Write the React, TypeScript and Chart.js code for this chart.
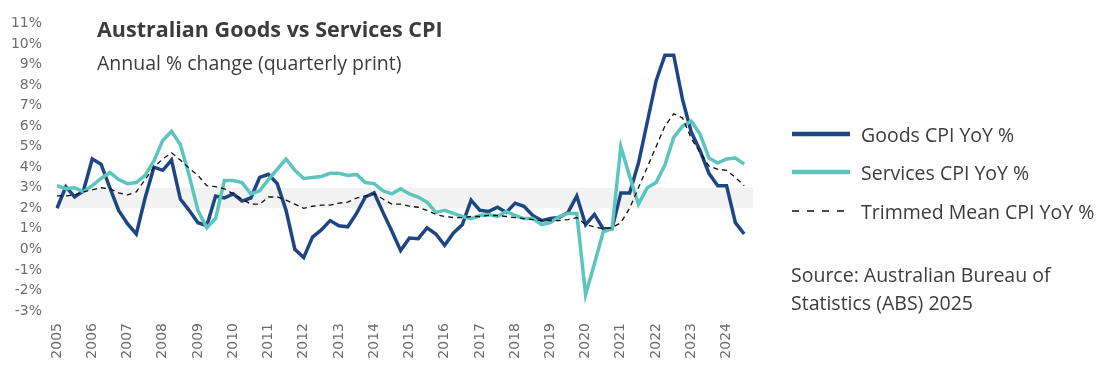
import React, { useEffect, useRef } from "react";
import { Chart, registerables } from "chart.js";

Chart.register(...registerables);

const years = [
  2005, 2006, 2007, 2008, 2009, 2010, 2011, 2012, 2013, 2014,
  2015, 2016, 2017, 2018, 2019, 2020, 2021, 2022, 2023, 2024,
];
const quarterNames = ["Q1", "Q2", "Q3", "Q4"];

const goodsCPI = [
  2.0, 3.05, 2.55, 2.85, 4.4, 4.15, 3.0, 1.9, 1.25, 0.75,
  2.5, 4.0, 3.85, 4.35, 2.45, 1.9, 1.3, 1.15, 2.6, 2.5,
  2.7, 2.35, 2.5, 3.5, 3.65, 3.2, 1.9, 0.0, -0.4, 0.6,
  0.95, 1.4, 1.15, 1.1, 1.75, 2.55, 2.75, 1.8, 0.9, -0.05,
  0.55, 0.52, 1.05, 0.75, 0.2, 0.8, 1.2, 2.4, 1.9, 1.85,
  2.05, 1.8, 2.25, 2.1, 1.65, 1.4, 1.5, 1.55, 1.8, 2.6,
  1.2, 1.7, 1.0, 1.0, 2.75, 2.75, 4.2, 6.2, 8.2, 9.45,
  9.45, 7.3, 5.7, 4.8, 3.7, 3.1, 3.1, 1.3, 0.75, null,
];

const servicesCPI = [
  3.1, 2.95, 3.0, 2.8, 3.1, 3.45, 3.75, 3.4, 3.2, 3.25,
  3.6, 4.3, 5.3, 5.75, 5.1, 3.6, 1.9, 1.05, 1.5, 3.35,
  3.35, 3.25, 2.7, 2.85, 3.4, 3.9, 4.4, 3.85, 3.45, 3.5,
  3.55, 3.7, 3.7, 3.6, 3.65, 3.25, 3.2, 2.85, 2.7, 2.95,
  2.7, 2.55, 2.3, 1.8, 1.9, 1.75, 1.6, 1.5, 1.65, 1.7,
  1.6, 1.85, 1.65, 1.5, 1.5, 1.2, 1.3, 1.6, 1.75, 1.75,
  -2.2, -0.7, 0.85, 1.0, 5.0, 3.55, 2.2, 3.0, 3.25, 4.1,
  5.45, 6.0, 6.25, 5.6, 4.45, 4.2, 4.4, 4.45, 4.15, null,
];

const trimmedMeanCPI = [
  2.6, 2.6, 2.65, 2.8, 2.9, 3.0, 2.95, 2.75, 2.65, 2.8,
  3.4, 4.0, 4.4, 4.7, 4.35, 3.95, 3.6, 3.1, 3.05, 2.95,
  2.7, 2.45, 2.2, 2.2, 2.55, 2.55, 2.4, 2.2, 2.0, 2.1,
  2.15, 2.15, 2.25, 2.3, 2.5, 2.6, 2.7, 2.45, 2.2, 2.2,
  2.1, 2.05, 1.9, 1.7, 1.6, 1.55, 1.55, 1.6, 1.6, 1.65,
  1.65, 1.6, 1.55, 1.5, 1.45, 1.4, 1.4, 1.4, 1.45, 1.55,
  1.2, 1.1, 1.0, 1.05, 1.3, 2.0, 3.0, 4.0, 5.0, 6.0,
  6.6, 6.4, 5.4, 4.7, 4.05, 3.9, 3.85, 3.5, 3.1, null,
];

// RBA target band (2% - 3%)
const targetBand = [2, 3];

const yTickMin = -3;
const yTickMax = 11;

const GOODS_COLOR = "#1d4682";
const SERVICES_COLOR = "#5cc5bd";
const TEXT_COLOR = "#3c3c3c";
const TICK_COLOR = "#6e6e6e";

const quarterLabels = years.flatMap((y) => quarterNames.map((q) => `${y} ${q}`));

export default function App() {
  const canvasRef = useRef<HTMLCanvasElement | null>(null);

  useEffect(() => {
    if (!canvasRef.current) return;
    const chart = new Chart(canvasRef.current, {
      type: "line",
      data: {
        labels: quarterLabels,
        datasets: [
          {
            label: "Band low",
            data: quarterLabels.map(() => targetBand[0]),
            borderWidth: 0,
            pointRadius: 0,
            fill: false,
            order: 5,
          },
          {
            label: "Band high",
            data: quarterLabels.map(() => targetBand[1]),
            borderWidth: 0,
            pointRadius: 0,
            fill: "-1",
            backgroundColor: "#f2f2f2",
            order: 4,
          },
          {
            label: "Goods CPI YoY %",
            data: goodsCPI,
            borderColor: GOODS_COLOR,
            borderWidth: 3.5,
            pointRadius: 0,
            tension: 0,
            fill: false,
            order: 2,
          },
          {
            label: "Services CPI YoY %",
            data: servicesCPI,
            borderColor: SERVICES_COLOR,
            borderWidth: 3.5,
            pointRadius: 0,
            tension: 0,
            fill: false,
            order: 1,
          },
          {
            label: "Trimmed Mean CPI YoY %",
            data: trimmedMeanCPI,
            borderColor: "#111111",
            borderWidth: 1.3,
            borderDash: [5, 4],
            pointRadius: 0,
            tension: 0,
            fill: false,
            order: 0,
          },
        ],
      },
      options: {
        animation: false,
        responsive: false,
        maintainAspectRatio: false,
        layout: { padding: { left: 0, top: 22, right: 358, bottom: 0 } },
        plugins: {
          legend: { display: false },
          title: { display: false },
          tooltip: { enabled: false },
        },
        scales: {
          x: {
            type: "category",
            offset: false,
            grid: { display: false, drawTicks: false },
            border: { display: false },
            ticks: {
              autoSkip: false,
              minRotation: 90,
              maxRotation: 90,
              padding: 12,
              color: TICK_COLOR,
              font: { family: "DejaVu Sans", size: 14 },
              callback: (_v: any, i: number) => (i % 4 === 0 ? String(years[i / 4]) : ""),
            },
            afterFit: (scale: any) => {
              scale.height = 63;
            },
          },
          y: {
            min: yTickMin,
            max: yTickMax,
            grid: { display: false, drawTicks: false },
            border: { display: false },
            ticks: {
              stepSize: 1,
              padding: 15,
              color: TICK_COLOR,
              font: { family: "DejaVu Sans", size: 14 },
              callback: (v: any) => `${v}%`,
            },
            afterFit: (scale: any) => {
              scale.width = 57;
            },
          },
        },
      },
    });
    return () => chart.destroy();
  }, []);

  const font = "'Open Sans', 'Noto Sans', sans-serif";
  const legendItems = [
    { label: "Goods CPI YoY %", color: GOODS_COLOR, dashed: false, cy: 134 },
    { label: "Services CPI YoY %", color: SERVICES_COLOR, dashed: false, cy: 172 },
    { label: "Trimmed Mean CPI YoY %", color: "#111111", dashed: true, cy: 211 },
  ];

  return (
    <div
      style={{
        position: "absolute",
        left: 0,
        top: 0,
        width: 1111,
        height: 374,
        background: "#ffffff",
        fontFamily: font,
        color: TEXT_COLOR,
      }}
    >
      <canvas ref={canvasRef} width={1111} height={374} style={{ position: "absolute", left: 0, top: 0 }} />
      <div
        style={{
          position: "absolute",
          left: 97,
          top: 17.5,
          fontSize: 21.5,
          lineHeight: "21.5px",
          fontWeight: 700,
          whiteSpace: "nowrap",
        }}
      >
        Australian Goods vs Services CPI
      </div>
      <div
        style={{
          position: "absolute",
          left: 97,
          top: 52.5,
          fontSize: 19.5,
          lineHeight: "19.5px",
          whiteSpace: "nowrap",
        }}
      >
        Annual % change (quarterly print)
      </div>
      {legendItems.map((it) => (
        <div
          key={it.label}
          style={{
            position: "absolute",
            left: 792,
            top: it.cy - 13,
            height: 26,
            display: "flex",
            alignItems: "center",
            whiteSpace: "nowrap",
            fontSize: 19.5,
          }}
        >
          <svg width={58} height={8} style={{ marginRight: 11, display: "block" }}>
            <line
              x1={0}
              y1={4}
              x2={58}
              y2={4}
              stroke={it.color}
              strokeWidth={it.dashed ? 1.6 : 4.5}
              strokeDasharray={it.dashed ? "7 8" : undefined}
            />
          </svg>
          <span>{it.label}</span>
        </div>
      ))}
      <div
        style={{
          position: "absolute",
          left: 791,
          top: 261,
          fontSize: 19.5,
          lineHeight: "28px",
          whiteSpace: "nowrap",
        }}
      >
        Source: Australian Bureau of
        <br />
        Statistics (ABS) 2025
      </div>
    </div>
  );
}
